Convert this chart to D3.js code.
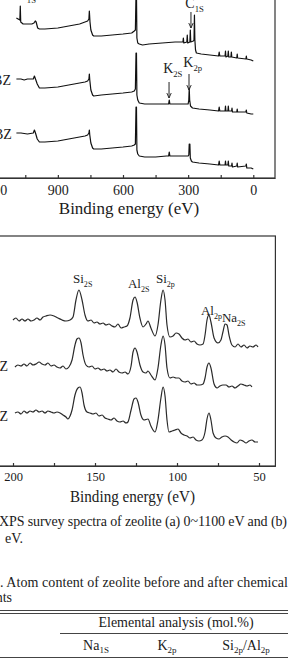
<html lang="en">
<head>
  <meta charset="UTF-8">
  <title>xps</title>
  <style>
    body {
      margin: 0;
      background-color: #fff;
    }
    svg {
      display: block;
    }
    text {
      font-family: 'Liberation Serif', 'Times New Roman', serif;
      fill: #1b1b1b;
    }
    .spec {
      fill: none;
      stroke: #111;
      stroke-width: 1.2;
      stroke-linejoin: round;
    }
    .spec.narrow {
      stroke: #2a2a2a;
    }
    .frame {
      fill: none;
      stroke: #333;
      stroke-width: 1.2;
    }
    .axis path, .axis line {
      stroke: #333;
      stroke-width: 1.2;
    }
    .axis text {
      font-family: 'Liberation Serif', 'Times New Roman', serif;
      fill: #1b1b1b;
    }
    .arrow {
      stroke: #222;
      stroke-width: 1;
    }
    .rule {
      stroke: #444;
      stroke-width: 1;
    }
  </style>
</head>
<body>
  <script src="https://d3js.org/d3.v7.min.js"></script>
  <script>
    // survey spectra (a), [binding energy eV, intensity a.u.]
    var surveyTop = [[1091,160],[1083,159],[1075,158],[1073,172],[1071,156],[1060,154],[1040,154],[1020,154],
      [1010,155],[1004,157],[1000,156],[993,150],[985,149],[960,149],[900,150],[850,152],[800,154],[775,156],
      [763,157],[757,159],[755,167],[752,156],[748,148],[740,143],[735,142],[700,142],[650,143],[600,144],
      [560,145],[548,147],[543,148],[540,185],[538,185],[536,140],[532,135],[525,134],[510,133],[480,134],
      [420,135],[360,136],[330,136],[324,136],[322,140],[320,135],[306,136],[304,143],[302,135],[292,136],
      [290,148],[288,136],[276,137],[273,138],[271,163],[269,138],[266,128],[262,125],[240,124],[200,123],
      [160,122],[157,126],[154,122],[130,122],[128,127],[126,121],[117,122],[115,127],[113,121],[103,121],
      [101,126],[99,121],[76,120],[74,124],[72,120],[34,119],[32,122],[30,119],[10,118],[0,117]];
    var surveyMid = [[1091,99],[1070,99],[1055,98],[1040,99],[1013,99],[1008,102],[1003,99],[995,94],[985,90],
      [960,90],[900,91],[850,93],[800,95],[775,96],[763,97],[757,99],[755,104],[753,98],[748,88],[740,83],
      [735,82],[700,83],[650,84],[600,85],[560,86],[548,87],[543,89],[540,125],[538,125],[536,83],[532,78],
      [525,75],[500,74],[450,74],[400,74],[390,74],[387,78],[384,74],[330,74],[300,74],[297,78],[295,90],
      [293,78],[289,72],[280,70],[250,69],[200,68],[160,67],[157,71],[154,67],[130,67],[128,72],[126,67],
      [117,67],[115,72],[113,67],[100,67],[98,70],[96,66],[76,66],[74,69],[72,66],[34,66],[32,68],[30,65],
      [10,64],[0,64]];
    var surveyLow = [[1091,45],[1070,45],[1040,44],[1013,45],[1008,48],[1003,45],[995,39],[985,36],[960,36],
      [900,37],[850,39],[800,41],[775,42],[763,43],[757,45],[755,48],[753,43],[748,35],[740,30],[735,29],
      [700,29],[650,30],[600,31],[560,32],[548,33],[543,34],[540,71],[538,71],[536,28],[532,24],[525,22],
      [500,21],[450,21],[400,22],[390,22],[387,26],[384,22],[330,22],[300,22],[297,23],[295,34],[294,28],
      [292,34],[290,20],[285,17],[280,16],[250,15],[200,14],[160,13],[157,17],[154,13],[130,13],[128,17],
      [126,13],[117,13],[115,17],[113,12],[100,12],[98,15],[96,11],[76,12],[74,15],[72,11],[34,12],[32,14],
      [30,10],[10,10],[0,9]];

    // narrow scan (b), [binding energy eV, intensity a.u.]
    var narrowTop = [[200,146],[198.2,148],[196.3,145],[194.5,147],[192.7,145],[190.9,147],[189,145],[187.2,146],
      [185.4,148],[183.5,146],[181.7,149],[179.9,150],[177.4,151],[175,150],[172.6,148],[170.1,146],[167.7,145],
      [165.2,146],[163.4,149],[161.6,166],[159.8,176],[157.9,166],[156.1,151],[154.3,145],[152.4,146],[150.6,143],
      [148.8,144],[147,142],[145.1,143],[143.3,141],[141.5,142],[139.6,140],[137.8,139],[136,142],[134.1,138],
      [132.3,139],[130.5,140],[128.7,148],[126.8,166],[125.6,169],[124.4,164],[122.6,148],[120.7,139],[118.9,142],
      [117.7,145],[115.9,138],[113.4,130],[111.6,141],[109.8,166],[108.5,176],[107.3,166],[106.1,141],[104.3,129],
      [102.4,130],[100.6,133],[98.8,132],[97,128],[95.1,126],[93.3,127],[91.5,124],[89.6,125],[87.8,122],[86,121],
      [84.1,122],[82.9,131],[81.7,146],[80.5,151],[79.3,144],[77.4,128],[75,123],[73.2,126],[72,134],[70.7,142],
      [69.5,141],[68.3,131],[66.5,121],[64.6,119],[62.8,122],[61,119],[59.1,121],[57.3,118],[55.5,120],[53.7,119],
      [51.8,121],[50.6,119]];
    var narrowMid = [[198.8,99],[197,101],[195.1,100],[193.3,102],[191.5,100],[189.6,103],[187.8,101],[186,102],
      [184.1,104],[182.3,102],[180.5,101],[178.7,103],[176.8,100],[175,101],[173.2,99],[171.3,98],[169.5,100],
      [167.7,97],[165.9,99],[164,106],[162.2,121],[161,127],[159.8,128],[158.5,123],[157.3,111],[155.5,101],
      [153.7,99],[151.8,100],[150,97],[148.2,98],[146.3,96],[144.5,97],[142.7,95],[140.9,96],[139,94],[137.2,97],
      [135.4,94],[133.5,93],[131.7,94],[129.9,92],[128,100],[126.8,114],[125.6,118],[124.4,114],[122.6,101],
      [120.7,94],[118.9,93],[117.7,95],[115.9,91],[113.4,86],[111.6,98],[109.8,121],[108.5,130],[107.3,121],
      [106.1,98],[104.3,88],[102.4,89],[100.6,88],[98.8,88],[97,85],[95.1,84],[93.3,85],[91.5,82],[89.6,83],
      [87.8,81],[86,81],[84.1,82],[82.9,88],[81.7,99],[80.5,103],[79.3,98],[77.4,82],[75.6,78],[73.8,80],[72,81],
      [70.1,81],[68.3,79],[66.5,80],[64.6,78],[62.8,80],[61,82],[59.1,81],[57.3,80],[55.5,81],[54.3,79]];
    var narrowLow = [[198.8,53],[197,54],[195.1,52],[193.3,55],[191.5,53],[189.6,55],[187.8,54],[186,56],[184.1,54],
      [182.3,55],[180.5,53],[178.7,55],[176.8,54],[175,53],[173.2,54],[171.3,53],[169.5,51],[167.7,49],[166.5,47],
      [165.2,50],[164,56],[162.2,71],[160.4,78],[159.1,79],[157.9,73],[156.7,61],[154.9,54],[153,53],[151.2,52],
      [149.4,53],[147.6,50],[145.7,51],[143.9,48],[142.1,47],[140.2,46],[138.4,48],[136.6,45],[134.8,44],
      [132.9,45],[131.1,43],[129.9,44],[128,56],[126.2,67],[125,68],[123.8,64],[122,51],[120.1,46],[117.7,47],
      [115.9,40],[113.4,34],[111.6,46],[109.8,68],[108.5,79],[107.3,70],[106.1,46],[104.9,34],[103,35],[101.2,36],
      [99.4,37],[97.6,33],[95.7,31],[93.9,30],[92.1,28],[90.2,29],[88.4,26],[86.6,25],[84.8,26],[82.9,34],
      [81.7,47],[80.5,53],[79.3,46],[78,33],[76.2,28],[74.4,27],[72.6,29],[70.7,30],[68.9,29],[67,26],[65.2,24],
      [63.4,23],[61.6,26],[59.8,25],[57.9,23],[56.1,25],[54.3,26],[52.4,24],[50.6,24]];

    var surveyTicks = [1200, 1050, 900, 750, 600, 450, 300, 150, 0];
    var narrowTicks = [200, 175, 150, 125, 100, 75, 50];

    // peak labels: [element, subscript, energy, intensity]
    var surveyLabels = [['Na', '1S', 1118, 179], ['C', '1S', 313, 170], ['K', '2S', 415, 105], ['K', '2p', 322, 111]];
    var surveyArrows = [[287, 166, 150], [388, 96, 80], [296, 104, 88]];
    var surveySamples = [['BZ', 1116, 93], ['BZ', 1112, 39]];
    var narrowLabels = [['Si', '2S', 163.4, 183], ['Al', '2S', 129.9, 178], ['Si', '2p', 112.8, 183],
      ['Al', '2p', 85.4, 151], ['Na', '2S', 72.6, 144]];
    var narrowSamples = [['BZ', 203, 95], ['BZ', 203, 45]];

    var width = 288, height = 660;
    var svg = d3.select('body').append('svg')
      .attr('width', width)
      .attr('height', height);

    svg.append('defs').append('marker')
      .attr('id', 'head')
      .attr('viewBox', '0 0 6 6')
      .attr('refX', 5).attr('refY', 3)
      .attr('markerWidth', 6).attr('markerHeight', 6)
      .attr('orient', 'auto')
      .append('path')
      .attr('d', 'M0,0.8L5,3L0,5.2')
      .attr('fill', 'none')
      .attr('stroke', '#222')
      .attr('stroke-width', 0.9);

    function label(g, x, y, d, size) {
      var t = g.append('text')
        .attr('x', x(d[2]))
        .attr('y', y(d[3]))
        .style('font-size', size + 'px');
      t.append('tspan').text(d[0]);
      t.append('tspan')
        .attr('dy', size * 0.3)
        .style('font-size', (size * 0.62) + 'px')
        .text(d[1]);
    }

    // ---- panel (a)
    var xa = d3.scaleLinear().domain([1300, -100]).range([-29, 275]);
    var ya = d3.scaleLinear().domain([0, 180]).range([178, -2]);
    var ga = svg.append('g');

    ga.append('rect').attr('class', 'frame')
      .attr('x', xa(1300)).attr('y', -20)
      .attr('width', xa(-100) - xa(1300)).attr('height', ya(0) + 20);

    var lineA = d3.line().x(function(d) { return xa(d[0]); }).y(function(d) { return ya(d[1]); });
    ga.selectAll('.spec')
      .data([surveyTop, surveyMid, surveyLow])
      .enter().append('path')
      .attr('class', 'spec')
      .attr('d', lineA);

    ga.append('g')
      .attr('class', 'axis')
      .attr('transform', 'translate(0,' + ya(0) + ')')
      .call(d3.axisBottom(xa).tickValues(surveyTicks).tickSizeInner(-3).tickSizeOuter(0).tickPadding(7)
        .tickFormat(function(d) { return d % 300 === 0 ? d : ''; }))
      .selectAll('text').style('font-size', '14px');

    ga.append('text')
      .attr('x', 129).attr('y', 214)
      .attr('text-anchor', 'middle')
      .style('font-size', '17px')
      .text('Binding energy (eV)');

    surveyLabels.forEach(function(d) { label(ga, xa, ya, d, 14); });
    ga.selectAll('.arrow')
      .data(surveyArrows)
      .enter().append('line')
      .attr('class', 'arrow')
      .attr('x1', function(d) { return xa(d[0]); })
      .attr('x2', function(d) { return xa(d[0]); })
      .attr('y1', function(d) { return ya(d[1]); })
      .attr('y2', function(d) { return ya(d[2]); })
      .attr('marker-end', 'url(#head)');
    ga.selectAll('.sample')
      .data(surveySamples)
      .enter().append('text')
      .attr('class', 'sample')
      .attr('x', function(d) { return xa(d[1]); })
      .attr('y', function(d) { return ya(d[2]); })
      .attr('text-anchor', 'end')
      .style('font-size', '14px')
      .text(function(d) { return d[0]; });

    // ---- panel (b)
    var xb = d3.scaleLinear().domain([210, 40]).range([-3.4, 275.4]);
    var yb = d3.scaleLinear().domain([0, 230]).range([466, 236]);
    var gb = svg.append('g');

    gb.append('rect').attr('class', 'frame')
      .attr('x', xb(210)).attr('y', yb(230))
      .attr('width', xb(40) - xb(210)).attr('height', yb(0) - yb(230));

    var lineB = d3.line().curve(d3.curveMonotoneX)
      .x(function(d) { return xb(d[0]); }).y(function(d) { return yb(d[1]); });
    gb.selectAll('.spec')
      .data([narrowTop, narrowMid, narrowLow])
      .enter().append('path')
      .attr('class', 'spec narrow')
      .attr('d', lineB);

    gb.append('g')
      .attr('class', 'axis')
      .attr('transform', 'translate(0,' + yb(0) + ')')
      .call(d3.axisBottom(xb).tickValues(narrowTicks).tickSizeInner(-3).tickSizeOuter(0).tickPadding(6)
        .tickFormat(function(d) { return d % 50 === 0 ? d : ''; }))
      .selectAll('text').style('font-size', '12.5px');

    gb.append('text')
      .attr('x', 70).attr('y', 502)
      .attr('textLength', 125)
      .attr('lengthAdjust', 'spacingAndGlyphs')
      .style('font-size', '17px')
      .text('Binding energy (eV)');

    narrowLabels.forEach(function(d) { label(gb, xb, yb, d, 13); });
    gb.selectAll('.sample')
      .data(narrowSamples)
      .enter().append('text')
      .attr('class', 'sample')
      .attr('x', function(d) { return xb(d[1]); })
      .attr('y', function(d) { return yb(d[2]); })
      .attr('text-anchor', 'end')
      .style('font-size', '14px')
      .text(function(d) { return d[0]; });

    // ---- caption and table head
    var cap = svg.append('g').style('font-size', '14px');
    cap.append('text').attr('x', -1).attr('y', 526)
      .attr('textLength', 288).attr('lengthAdjust', 'spacing')
      .text('XPS survey spectra of zeolite (a) 0~1100 eV and (b)');
    cap.append('text').attr('x', 5).attr('y', 543).text('eV.');
    cap.append('text').attr('x', 0).attr('y', 587)
      .attr('textLength', 288).attr('lengthAdjust', 'spacing')
      .text('. Atom content of zeolite before and after chemical');
    cap.append('text').attr('x', 12).attr('y', 602).attr('text-anchor', 'end').text('treatments');

    var rules = [[0, 610], [0, 613], [60, 633], [0, 657]];
    svg.selectAll('.rule')
      .data(rules)
      .enter().append('line')
      .attr('class', 'rule')
      .attr('x1', function(d) { return d[0]; })
      .attr('x2', width)
      .attr('y1', function(d) { return d[1] + 0.5; })
      .attr('y2', function(d) { return d[1] + 0.5; });

    cap.append('text').attr('x', 176).attr('y', 627).attr('text-anchor', 'middle')
      .text('Elemental analysis (mol.%)');
    var heads = [['Na', '1S', 96], ['K', '2p', 167], ['Si', '2p', 246]];
    heads.forEach(function(h, i) {
      var t = cap.append('text').attr('x', h[2]).attr('y', 650).attr('text-anchor', 'middle');
      t.append('tspan').text(h[0]);
      t.append('tspan').attr('dy', 3).style('font-size', '9px').text(h[1]);
      if (i === 2) {
        t.append('tspan').attr('dy', -3).text('/Al');
        t.append('tspan').attr('dy', 3).style('font-size', '9px').text('2p');
      }
    });
  </script>
</body>
</html>
